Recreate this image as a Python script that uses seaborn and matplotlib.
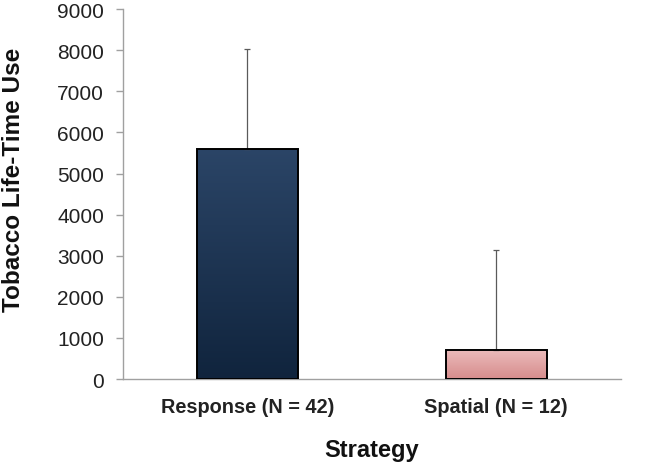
import numpy as np
import pandas as pd
import matplotlib
matplotlib.use("Agg")
import matplotlib.pyplot as plt
import seaborn as sns
from matplotlib.colors import LinearSegmentedColormap

categories = ["Response (N = 42)", "Spatial (N = 12)"]
means = [5600, 710]
upper_err = [2430, 2440]
yticks = [0, 1000, 2000, 3000, 4000, 5000, 6000, 7000, 8000, 9000]

sns.set_theme(style="white")
plt.rcParams["font.family"] = ["Liberation Sans", "DejaVu Sans"]

fig = plt.figure(figsize=(6.5, 4.64), dpi=100)
ax = fig.add_axes([0.189, 0.181, 0.766, 0.797])

df = pd.DataFrame({"Strategy": categories, "Use": means})
sns.barplot(data=df, x="Strategy", y="Use", ax=ax, width=0.405,
            color="#1c3350", edgecolor="black", linewidth=1.4, errorbar=None)

grads = [("#2b4567", "#10243d"), ("#ebbcbc", "#d78c8c")]
for patch, (c1, c2) in zip(ax.patches, grads):
    x0, y0 = patch.get_x(), patch.get_y()
    w, h = patch.get_width(), patch.get_height()
    cmap = LinearSegmentedColormap.from_list("g", [c2, c1])
    grad = np.linspace(0, 1, 256).reshape(-1, 1)
    im = ax.imshow(grad, cmap=cmap, aspect="auto", origin="lower",
                   extent=[x0, x0 + w, y0, y0 + h], zorder=patch.get_zorder() - 0.1)
    im.set_clip_path(patch)
    patch.set_facecolor("none")
    patch.set_zorder(3)

xs = np.arange(len(categories))
ax.errorbar(xs, means, yerr=[[0] * len(means), upper_err], fmt="none",
            ecolor="#5a5a5a", elinewidth=0.9, capsize=2, capthick=0.9, zorder=2)

ax.set_xlim(-0.5, 1.5)
ax.set_ylim(0, 9000)
ax.set_yticks(yticks)
ax.set_yticklabels([str(t) for t in yticks], fontsize=15, color="#222222")
ax.set_xticks(xs)
ax.set_xticklabels(categories, fontsize=14.3, fontweight="bold", color="#222222")
ax.set_xticks([-0.5, 0.5, 1.5], minor=True)
ax.tick_params(axis="x", which="major", length=0, pad=13)
ax.tick_params(axis="x", which="minor", length=5, color="#a0a0a0", width=1)
ax.tick_params(axis="y", length=5, color="#a0a0a0", width=1, pad=8.5, left=True)

ax.set_xlabel("Strategy", fontsize=17, fontweight="bold", labelpad=16, color="#111111")
ax.set_ylabel("Tobacco Life-Time Use", fontsize=17.5, fontweight="bold", color="#111111")
ax.yaxis.set_label_coords(-0.196, 0.54)

for s in ["top", "right"]:
    ax.spines[s].set_visible(False)
for s in ["left", "bottom"]:
    ax.spines[s].set_color("#a0a0a0")
    ax.spines[s].set_linewidth(1)

fig.savefig("out.png", dpi=100)
